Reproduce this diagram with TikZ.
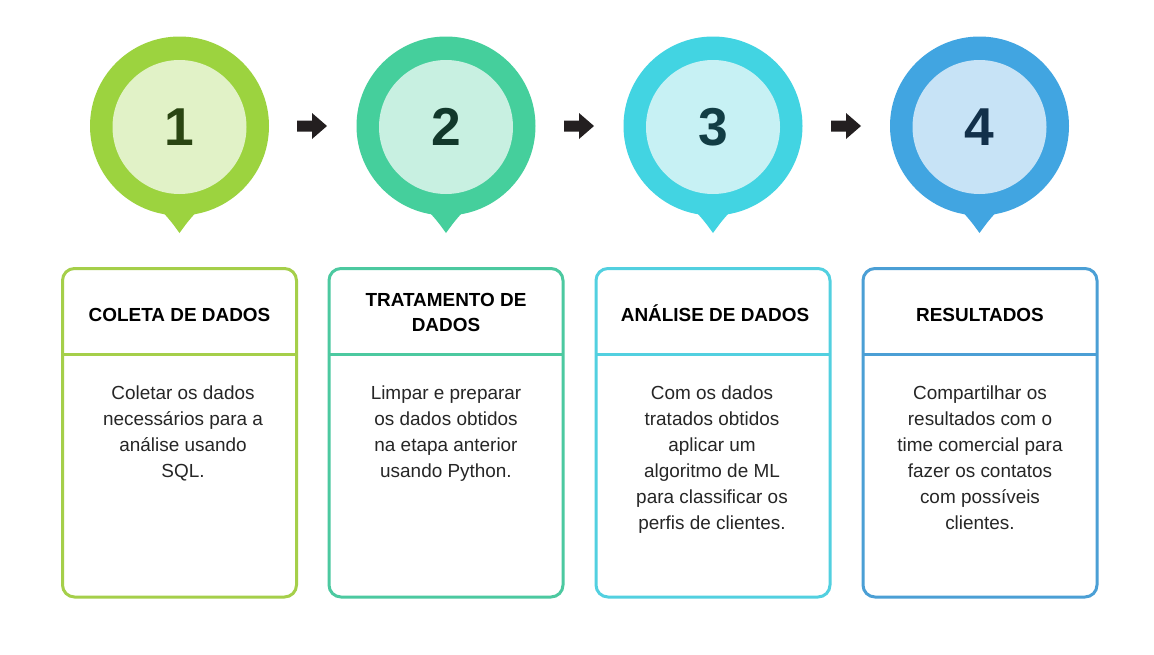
\documentclass[tikz,border=0pt]{standalone}
\usepackage{fontspec}
\setmainfont{Liberation Sans}
\definecolor{oA}{HTML}{9CD33F}\definecolor{iA}{HTML}{E1F2C7}\definecolor{nA}{HTML}{2A4512}\definecolor{bA}{HTML}{A5CF4A}
\definecolor{oB}{HTML}{45CF9C}\definecolor{iB}{HTML}{C8F0E1}\definecolor{nB}{HTML}{12382B}\definecolor{bB}{HTML}{4CC9A0}
\definecolor{oC}{HTML}{42D4E2}\definecolor{iC}{HTML}{C7F1F4}\definecolor{nC}{HTML}{123D44}\definecolor{bC}{HTML}{52D0E0}
\definecolor{oD}{HTML}{41A5E1}\definecolor{iD}{HTML}{C7E3F6}\definecolor{nD}{HTML}{12304A}\definecolor{bD}{HTML}{4B9FD5}
\definecolor{arr}{HTML}{231F20}
\tikzset{
  outerc/.style={circle, inner sep=0pt, minimum size=134.25pt},
  innerc/.style={circle, inner sep=0pt, minimum size=100.5pt, font=\fontsize{40}{40}\selectfont\bfseries},
  card/.style={line width=2.25pt, rounded corners=9pt},
  ctitle/.style={inner sep=0pt, align=center, font=\fontsize{14.2}{18.75}\selectfont\bfseries},
  cbody/.style={inner sep=0pt, align=center, font=\fontsize{14.2}{19.5}\selectfont, text=black!85},
}
\begin{document}
\begin{tikzpicture}[x=0.75pt,y=-0.75pt]
\useasboundingbox[fill=white] (0,0) rectangle (1154,654);
\foreach \cx/\o/\i/\n/\num/\nm in {179.5/oA/iA/nA/1/a, 446/oB/iB/nB/2/b, 713/oC/iC/nC/3/c, 979.5/oD/iD/nD/4/d}{
  \fill[\o] (\cx-34,196) .. controls (\cx-22,204) .. (\cx-15,214)
            .. controls (\cx-8,222) .. (\cx,233)
            .. controls (\cx+8,222) .. (\cx+15,214)
            .. controls (\cx+22,204) .. (\cx+34,196) -- cycle;
  \node[outerc, fill=\o] (out\nm) at (\cx,126) {};
  \node[innerc, fill=\i, text=\n] (in\nm) at (\cx,127) {\num};
}
% arrows
\foreach \ax in {297,564,831}{
  \fill[arr] (\ax,120.5) -- (\ax+15,120.5) -- (\ax+15,113) -- (\ax+30,126) -- (\ax+15,139) -- (\ax+15,131.5) -- (\ax,131.5) -- cycle;
}
% cards
\foreach \cx/\b in {179.5/bA, 446/bB, 713/bC, 980/bD}{
  \draw[card, \b] (\cx-117,268.5) rectangle (\cx+117,597);
  \draw[line width=2.25pt, \b] (\cx-117,354) -- (\cx+117,354);
}
\node[ctitle, anchor=base] (ta) at (179.5,321) {COLETA DE DADOS};
\node[ctitle, anchor=north] (tb) at (446,293) {TRATAMENTO DE\\DADOS};
\node[ctitle, anchor=base] (tc) at (715,321) {ANÁLISE DE DADOS};
\node[ctitle, anchor=base] (td) at (980,321) {RESULTADOS};
\node[cbody, anchor=north] (ba) at (183,386) {Coletar os dados\\necessários para a\\análise usando\\SQL.};
\node[cbody, anchor=north] (bb) at (446,386) {Limpar e preparar\\os dados obtidos\\na etapa anterior\\usando Python.};
\node[cbody, anchor=north] (bc) at (712,386) {Com os dados\\tratados obtidos\\aplicar um\\algoritmo de ML\\para classificar os\\perfis de clientes.};
\node[cbody, anchor=north] (bd) at (980,386) {Compartilhar os\\resultados com o\\time comercial para\\fazer os contatos\\com possíveis\\clientes.};
\end{tikzpicture}
\end{document}
